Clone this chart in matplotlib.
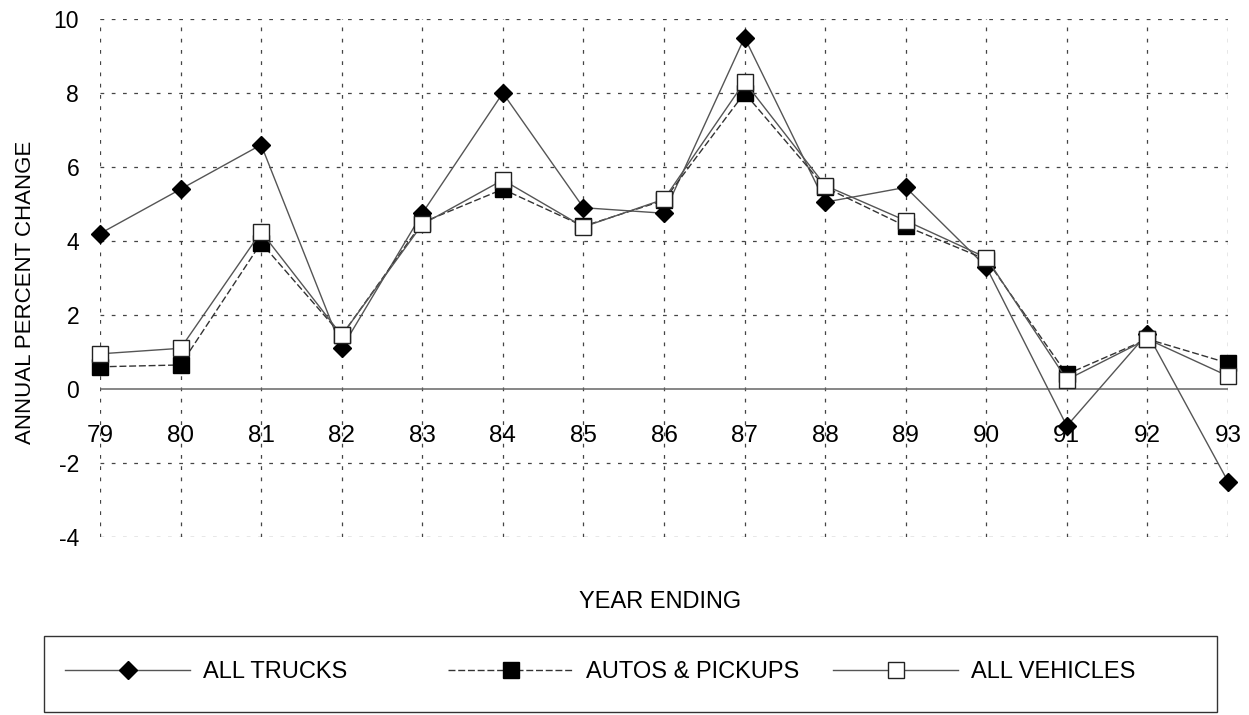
import matplotlib
matplotlib.use("Agg")
import matplotlib.pyplot as plt
import matplotlib.transforms as mtransforms
from matplotlib.patches import Rectangle

plt.rcParams['font.family'] = ['Liberation Sans', 'DejaVu Sans']

years = ["79", "80", "81", "82", "83", "84", "85", "86", "87", "88", "89", "90", "91", "92", "93"]
all_trucks = [4.2, 5.4, 6.6, 1.1, 4.75, 8.0, 4.9, 4.75, 9.5, 5.05, 5.45, 3.3, -1.0, 1.5, -2.5]
autos_pickups = [0.6, 0.65, 3.95, 1.45, 4.5, 5.4, 4.4, 5.1, 8.0, 5.45, 4.4, 3.5, 0.4, 1.35, 0.7]
all_vehicles = [0.95, 1.1, 4.25, 1.45, 4.45, 5.65, 4.38, 5.13, 8.3, 5.5, 4.55, 3.55, 0.25, 1.35, 0.35]
y_ticks = [-4, -2, 0, 2, 4, 6, 8, 10]

W, H = 1249, 715
fig = plt.figure(figsize=(W / 100, H / 100), dpi=100)
ax = fig.add_axes([100 / W, 1 - 537 / H, (1228 - 100) / W, (537 - 19) / H])

x = list(range(len(years)))
grid_kw = dict(color='#444444', lw=0.9, ls=(0, (3, 6)), zorder=1)
for xi in x:
    ax.axvline(xi, **grid_kw)
for yv in y_ticks:
    if yv != 0:
        ax.axhline(yv, **grid_kw)
ax.axhline(0, color='#666666', lw=1.1, zorder=1)

l1, = ax.plot(x, all_trucks, color='#555555', lw=1.0, marker='D', markersize=9.5,
              markerfacecolor='black', markeredgecolor='black', clip_on=False, zorder=3,
              label='ALL TRUCKS')
l2, = ax.plot(x, autos_pickups, color='#333333', lw=1.0, ls=(0, (5, 2)), marker='s', markersize=11,
              markerfacecolor='black', markeredgecolor='black', clip_on=False, zorder=4,
              label='AUTOS & PICKUPS')
l3, = ax.plot(x, all_vehicles, color='#555555', lw=1.0, ls='-', marker='s', markersize=11,
              markerfacecolor='white', markeredgecolor='#222222', markeredgewidth=1.0,
              clip_on=False, zorder=5, label='ALL VEHICLES')

ax.set_xlim(0, len(years) - 1)
ax.set_ylim(-4, 10)
ax.set_yticks(y_ticks)
ax.set_yticklabels([str(v) for v in y_ticks])
ax.set_xticks(x)
ax.set_xticklabels(years)
for s in ax.spines.values():
    s.set_visible(False)
ax.tick_params(axis='y', length=0, pad=15, labelsize=16.5)
ax.tick_params(axis='x', length=0, pad=0, labelsize=17.5)
# place x tick labels just under the zero line
for lab in ax.get_xticklabels():
    lab.set_transform(lab.get_transform() + mtransforms.ScaledTranslation(0, (537 - 425) / 100, fig.dpi_scale_trans))

ax.set_ylabel('ANNUAL PERCENT CHANGE', fontsize=16, labelpad=13)
ax.yaxis.set_label_coords(-64 / 1128, (537 - 292) / 518)
fig.text(660 / W, 1 - 602 / H, 'YEAR ENDING', fontsize=17, ha='center', va='center')

# legend box
fig.patches.append(Rectangle((44 / W, 1 - 712 / H), (1217 - 44) / W, (712 - 636) / H,
                             transform=fig.transFigure, fill=False, edgecolor='#333333', lw=1.0))
yc = 1 - 672 / H
for handle, xs in [(l1, 65), (l2, 448), (l3, 833)]:
    fig.legend(handles=[handle], loc='center left', bbox_to_anchor=(xs / W, yc),
               frameon=False, fontsize=17, handlelength=5.3, handletextpad=0.55,
               borderpad=0, borderaxespad=0)

fig.savefig('out.png', dpi=100)
